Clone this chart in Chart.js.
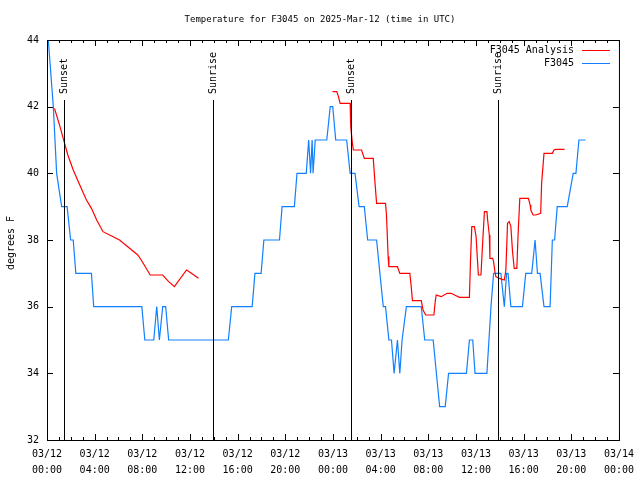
<!DOCTYPE html>
<html>
<head>
<meta charset="utf-8">
<script src="https://cdn.jsdelivr.net/npm/chart.js@4.4.1/dist/chart.umd.min.js"></script>
<style>
  html, body { margin: 0; padding: 0; background: #fff; }
  #wrap { width: 640px; height: 480px; }
</style>
</head>
<body>
<div id="wrap"><canvas id="tempChart" width="640" height="480"></canvas></div>
<script>
// All times are hours since 03/12 00:00 UTC

// F3045 observations
const obsHours = [0.11, 0.53, 0.81, 1.23, 1.69, 1.98, 2.20, 2.42, 3.73, 3.92,
    7.96, 8.21, 8.96, 9.21, 9.43, 9.71, 9.96, 10.21, 15.22, 15.50,
    17.22, 17.45, 17.97, 18.20, 19.51, 19.73, 20.76, 20.98, 21.76, 21.96,
    22.12, 22.25, 22.33, 22.51, 23.48, 23.77, 23.98, 24.23, 25.15, 25.44,
    25.85, 26.19, 26.63, 26.91, 27.66, 27.94, 28.22, 28.41, 28.69, 28.91,
    29.13, 29.41, 29.61, 29.80, 30.16, 31.41, 31.70, 32.41, 32.95, 33.42,
    33.70, 35.20, 35.45, 35.73, 35.92, 36.92, 37.26, 37.48, 38.09, 38.38,
    38.57, 38.69, 38.93, 39.90, 40.18, 40.68, 40.96, 41.16, 41.38, 41.71,
    42.22, 42.41, 42.60, 42.82, 43.66, 44.16, 44.39, 44.64, 45.19];
const obsTemps = [44, 42, 40, 39, 39, 38, 38, 37, 37, 36,
    36, 35, 35, 36, 35, 36, 36, 35, 35, 36,
    36, 37, 37, 38, 38, 39, 39, 40, 40, 41,
    40, 41, 40, 41, 41, 42, 42, 41, 41, 40,
    40, 39, 39, 38, 38, 37, 36, 36, 35, 35,
    34, 35, 34, 35, 36, 36, 35, 35, 33, 33,
    34, 34, 35, 35, 34, 34, 36, 37, 37, 36,
    37, 37, 36, 36, 37, 37, 38, 37, 37, 36,
    36, 38, 38, 39, 39, 40, 40, 41, 41];

// F3045 Analysis (null = no analysis in that gap)
const anaHours = [0.63, 1.09, 1.36, 1.75, 2.20, 2.75, 3.31, 3.73, 4.17, 4.70,
    5.26, 6.09, 6.93, 7.62, 7.91, 8.66, 9.71, 10.21, 10.69, 11.71,
    11.94, 12.71, 18.00,
    23.96, 24.32, 24.46, 24.60, 25.44, 25.49, 25.63, 25.71, 26.40, 26.63,
    27.38, 27.52, 27.66, 28.41, 28.49, 28.63, 28.69, 29.41, 29.61, 30.45,
    30.58, 30.67, 31.41, 31.56, 31.78, 32.47, 32.58, 32.66, 33.08, 33.58,
    33.92, 34.20, 34.62, 35.45, 35.54, 35.65, 35.87, 36.01, 36.15, 36.20,
    36.42, 36.56, 36.71, 36.92, 36.98, 37.12, 37.17, 37.40, 37.48, 37.59,
    37.67, 37.96, 38.38, 38.51, 38.65, 38.79, 38.93, 39.07, 39.21, 39.43,
    39.54, 39.68, 40.40, 40.55, 40.60, 40.80, 41.01, 41.43, 41.51, 41.71,
    42.41, 42.55, 42.68, 43.43];
const anaTemps = [41.95, 41.4, 41.05, 40.55, 40.1, 39.65, 39.2, 38.95, 38.6, 38.25,
    38.15, 38.0, 37.75, 37.55, 37.4, 36.95, 36.95, 36.75, 36.6, 37.1,
    37.05, 36.85, null,
    42.45, 42.45, 42.3, 42.1, 42.1, 41.4, 40.9, 40.7, 40.7, 40.45,
    40.45, 39.75, 39.1, 39.1, 38.75, 37.5, 37.2, 37.2, 37.0, 37.0,
    36.55, 36.18, 36.18, 35.9, 35.75, 35.75, 36.15, 36.35, 36.3, 36.4,
    36.4, 36.35, 36.28, 36.28, 37.35, 38.4, 38.4, 38.1, 37.25, 36.95,
    36.95, 37.9, 38.85, 38.85, 38.6, 38.15, 37.45, 37.45, 37.35, 37.05,
    36.9, 36.85, 36.8, 37.1, 38.5, 38.55, 38.4, 37.65, 37.15, 37.15,
    38.2, 39.25, 39.25, 39.05, 38.9, 38.75, 38.75, 38.8, 39.7, 40.6,
    40.6, 40.7, 40.72, 40.72];

// sunrise / sunset markers
const sunHours = [1.45, 13.89, 25.49, 37.84];
const sunLabels = ['Sunset', 'Sunrise', 'Sunset', 'Sunrise'];

// axis labels
const xTickLabels = [
    ['03/12', '00:00'], ['03/12', '04:00'], ['03/12', '08:00'], ['03/12', '12:00'],
    ['03/12', '16:00'], ['03/12', '20:00'], ['03/13', '00:00'], ['03/13', '04:00'],
    ['03/13', '08:00'], ['03/13', '12:00'], ['03/13', '16:00'], ['03/13', '20:00'],
    ['03/14', '00:00']
];
const yTickLabels = ['32', '34', '36', '38', '40', '42', '44'];

const FONT = '"DejaVu Sans Mono", "Liberation Mono", monospace';
const BLUE = '#1080ff';
const RED = '#ff0000';

function toPoints(xs, ys) {
    return xs.map((h, i) => ({ x: h, y: ys[i] }));
}

// gnuplot style frame, ticks, sun markers, title, legend
const gnuplotDecor = {
    id: 'gnuplotDecor',
    afterDatasetsDraw(chart) {
        const { ctx, chartArea: a, scales: { x, y } } = chart;
        ctx.save();
        ctx.strokeStyle = '#000';
        ctx.fillStyle = '#000';
        ctx.lineWidth = 1;

        // sunrise / sunset lines
        const lineTop = a.bottom - 0.85 * (a.bottom - a.top);
        ctx.font = '10px ' + FONT;
        sunHours.forEach((h, i) => {
            const px = Math.round(x.getPixelForValue(h)) + 0.5;
            ctx.beginPath();
            ctx.moveTo(px, lineTop);
            ctx.lineTo(px, a.bottom);
            ctx.stroke();
            ctx.save();
            ctx.translate(px, lineTop - 6);
            ctx.rotate(-Math.PI / 2);
            ctx.textAlign = 'left';
            ctx.textBaseline = 'middle';
            ctx.fillText(sunLabels[i], 0, 0);
            ctx.restore();
        });

        // border
        ctx.strokeRect(a.left + 0.5, a.top + 0.5, a.right - a.left, a.bottom - a.top);

        // x ticks, every hour, longer every 4 hours, mirrored on top
        ctx.beginPath();
        for (let h = 0; h <= 48; h++) {
            const px = Math.round(x.getPixelForValue(h)) + 0.5;
            const len = h % 4 === 0 ? 6 : 3;
            ctx.moveTo(px, a.bottom);
            ctx.lineTo(px, a.bottom - len);
            ctx.moveTo(px, a.top);
            ctx.lineTo(px, a.top + len);
        }
        // y ticks, mirrored on right
        yTickLabels.forEach(t => {
            const py = Math.round(y.getPixelForValue(Number(t))) + 0.5;
            ctx.moveTo(a.left, py);
            ctx.lineTo(a.left + 6, py);
            ctx.moveTo(a.right, py);
            ctx.lineTo(a.right - 6, py);
        });
        ctx.stroke();

        // title
        ctx.textAlign = 'center';
        ctx.textBaseline = 'middle';
        ctx.font = '9px ' + FONT;
        ctx.fillText('Temperature for F3045 on 2025-Mar-12 (time in UTC)', 320, 20);
        ctx.font = '10px ' + FONT;

        // y axis title
        ctx.save();
        ctx.translate(11, 243);
        ctx.rotate(-Math.PI / 2);
        ctx.fillText('degrees F', 0, 0);
        ctx.restore();

        // legend
        const legend = [['F3045 Analysis', RED], ['F3045', BLUE]];
        ctx.textAlign = 'right';
        legend.forEach(([name, col], i) => {
            const ly = 50 + i * 13;
            ctx.fillStyle = '#000';
            ctx.fillText(name, 574, ly);
            ctx.strokeStyle = col;
            ctx.beginPath();
            ctx.moveTo(582, Math.round(ly) + 0.5);
            ctx.lineTo(610, Math.round(ly) + 0.5);
            ctx.stroke();
        });
        ctx.restore();
    }
};

document.addEventListener('DOMContentLoaded', () => {
    const ctx = document.getElementById('tempChart').getContext('2d');

    new Chart(ctx, {
        type: 'line',
        data: {
            datasets: [
                {
                    label: 'F3045 Analysis',
                    data: toPoints(anaHours, anaTemps),
                    borderColor: RED,
                    borderWidth: 1.2,
                    pointRadius: 0,
                    tension: 0,
                    spanGaps: false
                },
                {
                    label: 'F3045',
                    data: toPoints(obsHours, obsTemps),
                    borderColor: BLUE,
                    borderWidth: 1.2,
                    pointRadius: 0,
                    tension: 0
                }
            ]
        },
        options: {
            responsive: false,
            animation: false,
            layout: { padding: { top: 40, right: 18, left: 0, bottom: 0 } },
            plugins: {
                legend: { display: false },
                title: { display: false },
                tooltip: { enabled: false }
            },
            scales: {
                x: {
                    type: 'linear',
                    min: 0,
                    max: 48,
                    afterFit: (s) => { s.height = 40; },
                    grid: { display: false, drawTicks: false },
                    border: { display: false },
                    ticks: {
                        stepSize: 4,
                        autoSkip: false,
                        maxRotation: 0,
                        padding: 6,
                        color: '#000',
                        font: { family: FONT, size: 10, lineHeight: 1.6 },
                        callback: (v) => xTickLabels[v / 4]
                    }
                },
                y: {
                    min: 32,
                    max: 44,
                    afterFit: (s) => { s.width = 47; },
                    grid: { display: false, drawTicks: false },
                    border: { display: false },
                    ticks: {
                        stepSize: 2,
                        padding: 8,
                        color: '#000',
                        font: { family: FONT, size: 10 },
                        callback: (v) => yTickLabels[(v - 32) / 2]
                    }
                }
            }
        },
        plugins: [gnuplotDecor]
    });
});
</script>
</body>
</html>
